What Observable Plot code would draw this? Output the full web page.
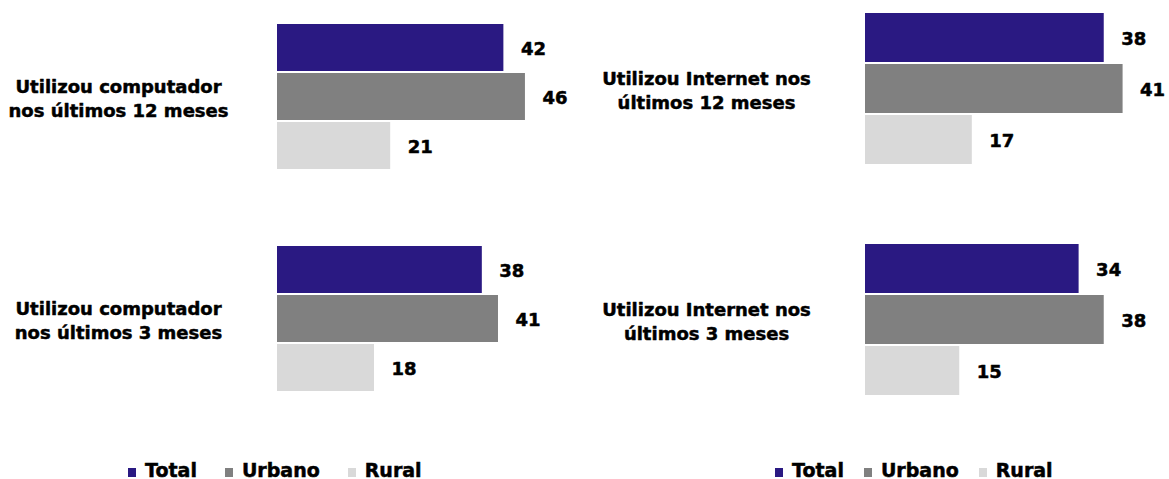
<!DOCTYPE html>
<html>
<head>
<meta charset="utf-8">
<script src="https://cdn.jsdelivr.net/npm/d3@7"></script>
<script src="https://cdn.jsdelivr.net/npm/@observablehq/plot@0.6"></script>
<style>
  html, body { margin: 0; padding: 0; background: #fff; }
  body { width: 1169px; height: 479px; overflow: hidden; position: relative; font-family: "DejaVu Sans", Verdana, sans-serif; }
  .panel { position: absolute; top: 0; height: 479px; }
  .legend { position: absolute; top: 460px; display: flex; align-items: center; font-weight: bold; font-size: 19px; line-height: 20px; color: #000; white-space: nowrap; -webkit-text-stroke: 0.5px #000; }
  .legend .item { display: flex; align-items: center; }
  .legend .sw { display: inline-block; width: 8px; height: 9px; margin-right: 9px; margin-top: 4px; }
</style>
</head>
<body>
<div id="left" class="panel" style="left:0;width:584px"></div>
<div id="right" class="panel" style="left:584px;width:585px"></div>
<script>
// ---- data ----
const series = ["Total", "Urbano", "Rural"];
const seriesColors = ["#2a1982", "#808080", "#d9d9d9"];

const leftCategories = ["Utilizou computador\nnos últimos 12 meses", "Utilizou computador\nnos últimos 3 meses"];
const leftTotal = [42, 38];
const leftUrbano = [46, 41];
const leftRural = [21, 18];

const rightCategories = ["Utilizou Internet nos\núltimos 12 meses", "Utilizou Internet nos\núltimos 3 meses"];
const rightTotal = [38, 34];
const rightUrbano = [41, 38];
const rightRural = [17, 15];

function rows(cats, total, urbano, rural) {
  const vals = [total, urbano, rural];
  const out = [];
  cats.forEach((c, i) => series.forEach((s, j) => out.push({cat: c, series: s, value: vals[j][i]})));
  return out;
}

const FONT = 18;

function panel(cats, data, opts) {
  return Plot.plot({
    width: opts.width,
    height: 440,
    marginTop: opts.marginTop,
    marginBottom: 440 - opts.bottom,
    marginLeft: opts.marginLeft,
    marginRight: 0,
    style: {fontFamily: "'DejaVu Sans', Verdana, sans-serif", fontSize: FONT + "px", fontWeight: "bold", background: "white", color: "#000", overflow: "visible"},
    x: {domain: opts.xDomain, range: opts.xRange, axis: null},
    y: {domain: series, axis: null, paddingInner: 0.04, paddingOuter: 0},
    fy: {domain: cats, axis: null, paddingInner: opts.fyPad, paddingOuter: 0},
    color: {domain: series, range: seriesColors},
    marks: [
      Plot.barX(data, {x: "value", y: "series", fy: "cat", fill: "series"}),
      Plot.text(data, {x: "value", y: "series", fy: "cat", text: d => String(d.value), textAnchor: "start", dx: 17, dy: 1, fontSize: FONT, fontWeight: "bold", fill: "#000", stroke: "#000", strokeWidth: 0.5, paintOrder: "fill"}),
      Plot.text(cats, {fy: d => d, text: d => d, frameAnchor: "left", dx: -159, textAnchor: "middle", lineHeight: 1.38, fontSize: FONT, fontWeight: "bold", fill: "#000", stroke: "#000", strokeWidth: 0.5, paintOrder: "fill"})
    ]
  });
}

function legend(left, gap) {
  const div = document.createElement("div");
  div.className = "legend";
  div.style.left = left + "px";
  div.style.gap = gap + "px";
  series.forEach((s, i) => {
    const it = document.createElement("span");
    it.className = "item";
    const sw = document.createElement("span");
    sw.className = "sw";
    sw.style.background = seriesColors[i];
    it.appendChild(sw);
    it.appendChild(document.createTextNode(s));
    div.appendChild(it);
  });
  return div;
}

const leftEl = document.getElementById("left");
leftEl.appendChild(panel(leftCategories, rows(leftCategories, leftTotal, leftUrbano, leftRural), {
  width: 584, marginTop: 23, bottom: 392, marginLeft: 277, xDomain: [0, 50], xRange: [277, 546.5], fyPad: 0.338
}));
leftEl.appendChild(legend(128, 28));

const rightEl = document.getElementById("right");
rightEl.appendChild(panel(rightCategories, rows(rightCategories, rightTotal, rightUrbano, rightRural), {
  width: 585, marginTop: 11, bottom: 397, marginLeft: 281, xDomain: [0, 46], xRange: [281, 570], fyPad: 0.336
}));
rightEl.appendChild(legend(191, 20));
</script>
</body>
</html>
